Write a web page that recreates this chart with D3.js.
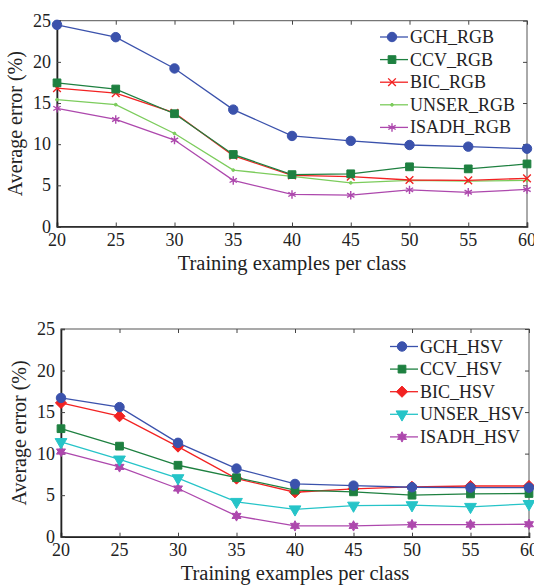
<!DOCTYPE html>
<html lang="en">
<head>
<meta charset="UTF-8">
<title>Average error vs training examples</title>
<script src="https://d3js.org/d3.v7.min.js"></script>
<style>
  body { margin: 0; background: #fff; }
  svg text { font-family: "Liberation Serif", "DejaVu Serif", serif; }
</style>
</head>
<body>
<div id="chart"></div>
<script>
var xValues = [20, 25, 30, 35, 40, 45, 50, 55, 60];
var yTicks = [0, 5, 10, 15, 20, 25];

// RGB panel
var gchRgb   = [24.5, 23.0, 19.2, 14.2, 11.0, 10.4, 9.9, 9.7, 9.45];
var ccvRgb   = [17.45, 16.7, 13.7, 8.75, 6.3, 6.4, 7.25, 7.0, 7.6];
var bicRgb   = [16.8, 16.2, 13.8, 8.6, 6.2, 6.05, 5.65, 5.6, 5.85];
var unserRgb = [15.4, 14.8, 11.3, 6.85, 6.1, 5.3, 5.6, 5.5, 5.6];
var isadhRgb = [14.35, 13.0, 10.5, 5.6, 3.9, 3.8, 4.45, 4.15, 4.5];

// HSV panel
var gchHsv   = [16.7, 15.6, 11.3, 8.2, 6.35, 6.15, 5.95, 5.9, 5.9];
var ccvHsv   = [13.0, 10.9, 8.6, 7.1, 5.6, 5.4, 5.0, 5.15, 5.2];
var bicHsv   = [16.1, 14.5, 10.85, 7.0, 5.35, 5.75, 6.0, 6.1, 6.1];
var unserHsv = [11.4, 9.3, 7.05, 4.2, 3.3, 3.75, 3.8, 3.6, 3.95];
var isadhHsv = [10.25, 8.4, 5.8, 2.5, 1.3, 1.3, 1.45, 1.45, 1.5];

var blue = "#3b52ac", green = "#1e8040", red = "#f22222",
    lightGreen = "#7ccc5c", magenta = "#ad48ad", cyan = "#26c4c8";
var serif = "Liberation Serif, DejaVu Serif, serif";

// six pointed star (hexagram)
var symbolHexagram = {
  draw: function(ctx, size) {
    var r = Math.sqrt(size) * 0.62, ri = r * 0.55;
    for (var i = 0; i < 12; i++) {
      var a = -Math.PI / 2 + i * Math.PI / 6;
      var rr = i % 2 === 0 ? r : ri;
      if (i === 0) ctx.moveTo(rr * Math.cos(a), rr * Math.sin(a));
      else ctx.lineTo(rr * Math.cos(a), rr * Math.sin(a));
    }
    ctx.closePath();
  }
};

var panels = [
  {
    top: 20.7, bottom: 226.5, left: 57, right: 527,
    legendX: 380, legendY: 37,
    series: [
      { name: "GCH_RGB",   values: gchRgb,   color: blue,       sym: d3.symbolCircle,   size: 70, fill: true },
      { name: "CCV_RGB",   values: ccvRgb,   color: green,      sym: d3.symbolSquare,   size: 60, fill: true },
      { name: "BIC_RGB",   values: bicRgb,   color: red,        sym: d3.symbolTimes,    size: 40, fill: false },
      { name: "UNSER_RGB", values: unserRgb, color: lightGreen, sym: d3.symbolCircle,   size: 6,  fill: true },
      { name: "ISADH_RGB", values: isadhRgb, color: magenta,    sym: d3.symbolAsterisk, size: 50, fill: false }
    ]
  },
  {
    top: 329, bottom: 536.7, left: 61, right: 529,
    legendX: 390, legendY: 346.5,
    series: [
      { name: "GCH_HSV",   values: gchHsv,   color: blue,    sym: d3.symbolCircle,   size: 70, fill: true },
      { name: "CCV_HSV",   values: ccvHsv,   color: green,   sym: d3.symbolSquare,   size: 60, fill: true },
      { name: "BIC_HSV",   values: bicHsv,   color: red,     sym: d3.symbolDiamond2, size: 80, fill: true },
      { name: "UNSER_HSV", values: unserHsv, color: cyan,    sym: d3.symbolTriangle, size: 60, fill: true, rot: 180 },
      { name: "ISADH_HSV", values: isadhHsv, color: magenta, sym: symbolHexagram,    size: 70, fill: true }
    ]
  }
];

var svg = d3.select("#chart").append("svg")
  .attr("width", 534)
  .attr("height", 585)
  .attr("font-family", serif);

function markerAttrs(sel, s) {
  var path = d3.symbol().type(s.sym).size(s.size)();
  sel.attr("d", path)
    .attr("fill", s.fill ? s.color : "none")
    .attr("stroke", s.color)
    .attr("stroke-width", s.fill ? 1 : 1.4);
}

panels.forEach(function(p) {
  var x = d3.scaleLinear().domain([20, 60]).range([p.left, p.right]);
  var y = d3.scaleLinear().domain([0, 25]).range([p.bottom, p.top]);
  var g = svg.append("g");

  // box
  g.append("rect")
    .attr("x", p.left).attr("y", p.top)
    .attr("width", p.right - p.left).attr("height", p.bottom - p.top)
    .attr("fill", "none").attr("stroke", "#555").attr("stroke-width", 1);

  // inward ticks on all sides
  var tl = 4;
  g.append("g").attr("transform", "translate(0," + p.bottom + ")")
    .call(d3.axisBottom(x).tickValues(xValues).tickSize(-tl).tickFormat(""))
    .call(function(a) { a.select(".domain").attr("stroke", "#222").attr("stroke-width", 1.6); });
  g.append("g").attr("transform", "translate(0," + p.top + ")")
    .call(d3.axisTop(x).tickValues(xValues).tickSize(-tl).tickFormat(""))
    .call(function(a) { a.select(".domain").remove(); });
  g.append("g").attr("transform", "translate(" + p.left + ",0)")
    .call(d3.axisLeft(y).tickValues(yTicks).tickSize(-tl).tickFormat(""))
    .call(function(a) { a.select(".domain").attr("stroke", "#222").attr("stroke-width", 1.6); });
  g.append("g").attr("transform", "translate(" + p.right + ",0)")
    .call(d3.axisRight(y).tickValues(yTicks).tickSize(-tl).tickFormat(""))
    .call(function(a) { a.select(".domain").remove(); });
  g.selectAll(".tick line").attr("stroke", "#444");

  // tick labels
  g.selectAll(".xlab").data(xValues).enter().append("text")
    .attr("x", function(d) { return x(d); })
    .attr("y", p.bottom + 19)
    .attr("text-anchor", "middle")
    .attr("font-family", serif)
    .attr("font-size", 18).attr("fill", "#222")
    .text(function(d) { return d; });
  g.selectAll(".ylab").data(yTicks).enter().append("text")
    .attr("x", p.left - 6)
    .attr("y", function(d) { return y(d) + 6; })
    .attr("text-anchor", "end")
    .attr("font-family", serif)
    .attr("font-size", 18).attr("fill", "#222")
    .text(function(d) { return d; });

  // axis titles
  g.append("text")
    .attr("x", (p.left + p.right) / 2)
    .attr("y", p.bottom + 43)
    .attr("text-anchor", "middle")
    .attr("font-family", serif)
    .attr("font-size", 20.5).attr("fill", "#222")
    .text("Training examples per class");
  g.append("text")
    .attr("transform", "translate(" + (p.left - 35) + "," + ((p.top + p.bottom) / 2) + ") rotate(-90)")
    .attr("text-anchor", "middle")
    .attr("font-family", serif)
    .attr("font-size", 20).attr("fill", "#222")
    .text("Average error (%)");

  // series
  var line = d3.line()
    .x(function(d, i) { return x(xValues[i]); })
    .y(function(d) { return y(d); });

  p.series.slice().reverse().forEach(function(s) {
    g.append("path")
      .datum(s.values)
      .attr("d", line)
      .attr("fill", "none")
      .attr("stroke", s.color)
      .attr("stroke-width", 1.3);
    g.selectAll(null).data(s.values).enter().append("path")
      .attr("transform", function(d, i) {
        return "translate(" + x(xValues[i]) + "," + y(d) + ")" + (s.rot ? " rotate(" + s.rot + ")" : "");
      })
      .call(markerAttrs, s);
  });

  // legend
  var leg = g.append("g").attr("transform", "translate(" + p.legendX + "," + p.legendY + ")");
  p.series.forEach(function(s, i) {
    var row = leg.append("g").attr("transform", "translate(0," + (i * 22.6) + ")");
    row.append("line")
      .attr("x1", 0).attr("x2", 28).attr("y1", 0).attr("y2", 0)
      .attr("stroke", s.color).attr("stroke-width", 1.3);
    row.append("path")
      .attr("transform", "translate(12,0)" + (s.rot ? " rotate(" + s.rot + ")" : ""))
      .call(markerAttrs, s);
    row.append("text")
      .attr("x", 30).attr("y", 6)
      .attr("font-family", serif)
      .attr("font-size", 18).attr("fill", "#222")
      .text(s.name);
  });
});
</script>
</body>
</html>
